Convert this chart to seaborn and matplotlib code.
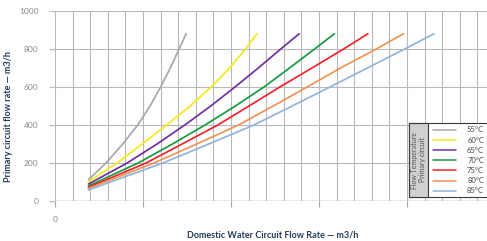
import numpy as np
import pandas as pd
import seaborn as sns
import matplotlib.pyplot as plt
from matplotlib.patches import Rectangle
from matplotlib.lines import Line2D

# flow temperature curves (x = domestic flow, y = primary flow)
temps = ['55°C', '60°C', '65°C', '70°C', '75°C', '80°C', '85°C']
colors = ['#a8a8a8', '#f7e81c', '#7030a0', '#169b3f', '#f2222b', '#ee9553', '#92b3de']

x_55 = [7.6, 11.6, 15.4, 18.8, 21.6, 24.0, 26.2, 28.2, 29.8]
y_55 = [112, 200, 300, 400, 500, 600, 700, 800, 880]
x_60 = [7.6, 14.1, 19.8, 25.4, 30.7, 35.5, 39.7, 43.3, 45.9]
y_60 = [102, 200, 300, 400, 500, 600, 700, 800, 880]
x_65 = [7.6, 16.4, 23.2, 29.5, 35.4, 40.9, 46.2, 51.3, 55.5]
y_65 = [89, 200, 300, 400, 500, 600, 700, 800, 880]
x_70 = [7.6, 18.9, 26.7, 34.1, 41.0, 47.5, 53.3, 59.0, 63.5]
y_70 = [79, 200, 300, 400, 500, 600, 700, 800, 880]
x_75 = [7.6, 20.7, 28.9, 37.0, 44.1, 51.1, 58.4, 65.6, 71.1]
y_75 = [72, 200, 300, 400, 500, 600, 700, 800, 880]
x_80 = [7.6, 22.5, 32.2, 41.7, 49.6, 57.3, 64.9, 73.0, 79.2]
y_80 = [66, 200, 300, 400, 500, 600, 700, 800, 880]
x_85 = [7.6, 24.5, 33.0, 45.2, 53.9, 62.5, 71.0, 79.5, 86.1]
y_85 = [58, 200, 281, 400, 500, 600, 700, 800, 880]

y_ticks = [0, 200, 400, 600, 800, 1000]
x_ticks = [0, 20, 40, 60, 80]
x_tick_labels = ['0', '', '', '', '']

xs = [x_55, x_60, x_65, x_70, x_75, x_80, x_85]
ys = [y_55, y_60, y_65, y_70, y_75, y_80, y_85]
df = pd.concat([pd.DataFrame({'domestic': x, 'primary': y, 'temp': t})
                for x, y, t in zip(xs, ys, temps)], ignore_index=True)

sns.set_style('white')
plt.rcParams['font.family'] = ['Lato', 'DejaVu Sans']

W, H = 487, 241
fig = plt.figure(figsize=(W / 100, H / 100), dpi=100)
ax = fig.add_axes([55 / W, 40 / H, 432 / W, 190 / H])

grid_c = '#b9b9b9'
sns.lineplot(data=df, x='domestic', y='primary', hue='temp', palette=dict(zip(temps, colors)),
             sort=False, estimator=None, legend=False, linewidth=1.25, ax=ax, zorder=3)

ax.set_xlim(0, 432 * 20 / 88)
ax.set_ylim(0, 1000)
ax.set_xticks(x_ticks)
ax.set_xticklabels(x_tick_labels)
ax.set_xticks(np.arange(0, 98, 4), minor=True)
ax.set_yticks(y_ticks)
ax.grid(which='both', axis='x', color=grid_c, lw=0.8)
ax.grid(which='major', axis='y', color=grid_c, lw=0.8)
ax.axhline(0, color='#a5a5a5', lw=1.0, zorder=2)
for s in ax.spines.values():
    s.set_visible(False)
ax.tick_params(axis='x', which='major', length=4, width=0.8, color='#a5a5a5', pad=7,
               labelsize=6, labelcolor='#8a8a8a', bottom=True)
ax.tick_params(axis='x', which='minor', length=0)
ax.tick_params(axis='y', length=4, width=0.8, color=grid_c, pad=8,
               labelsize=6, labelcolor='#8a8a8a', left=True)

lab_c = '#24395a'
ax.set_ylabel('Primary circuit flow rate — m3/h', fontsize=6.5, fontweight='bold', color=lab_c)
ax.yaxis.set_label_coords((13 - 55) / 432, (201 - 117) / 190)
ax.set_xlabel('Domestic Water Circuit Flow Rate — m3/h', fontsize=6.5, fontweight='bold',
              color=lab_c, va='center')
ax.xaxis.set_label_coords((273 - 55) / 432, (201 - 235) / 190)

# custom legend box (pixel layout)
def fx(x):
    return x / W

def fy(y):
    return 1 - y / H

fig.add_artist(Rectangle((fx(409), fy(197)), fx(486.5) - fx(409), fy(123) - fy(197),
                         transform=fig.transFigure, facecolor='white', edgecolor='#3a3a3a',
                         lw=0.8, zorder=5))
fig.add_artist(Rectangle((fx(409), fy(197)), fx(428) - fx(409), fy(123) - fy(197),
                         transform=fig.transFigure, facecolor='#d0d0d0', edgecolor='#3a3a3a',
                         lw=0.8, zorder=6))
fig.text(fx(418.5), fy(160), 'Flow Temperature\nPrimary circuit', rotation=90, ha='center',
         va='center', fontsize=5, color='#555555', linespacing=1.0, zorder=7)
for i, (t, c) in enumerate(zip(temps, colors)):
    yy = fy(130 + 10.1 * i)
    fig.add_artist(Line2D([fx(433), fx(456)], [yy, yy], transform=fig.transFigure,
                          color=c, lw=1.1, zorder=7))
    fig.text(fx(484), yy, t, ha='right', va='center', fontsize=5.5, color='#444444', zorder=7)

plt.savefig('out.png', dpi=100)
